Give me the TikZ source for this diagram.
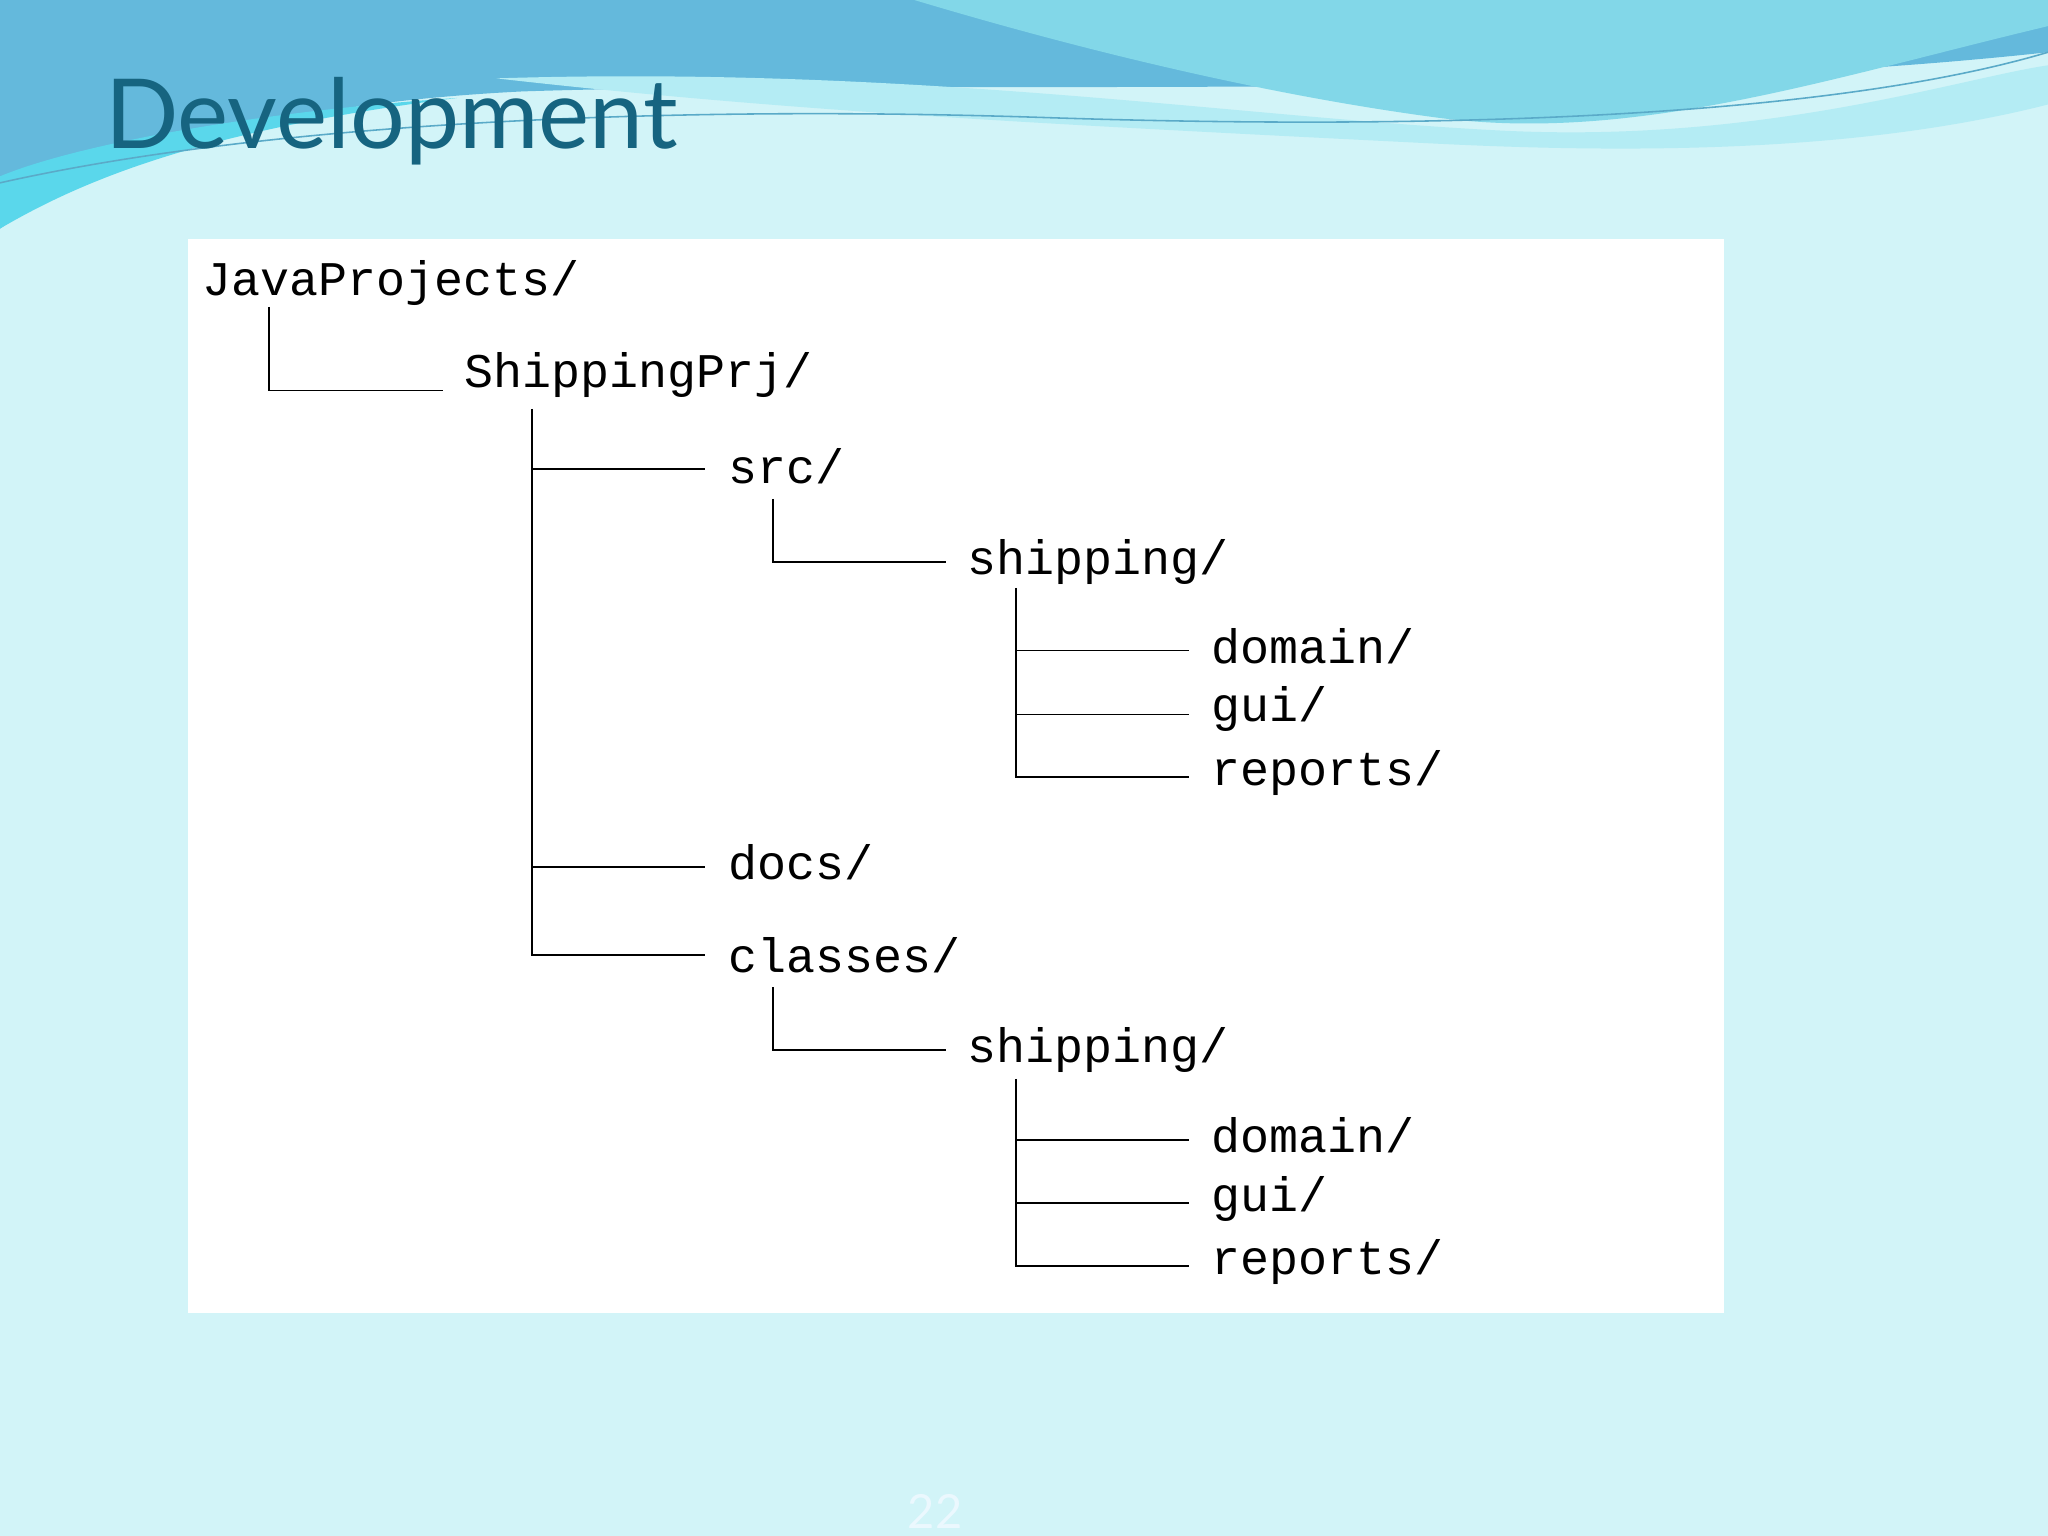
\documentclass[tikz,border=0pt]{standalone}
\usepackage{fontspec}
\setmainfont{Lato}
\newfontfamily\monof{Liberation Mono}
\begin{document}
\begin{tikzpicture}[x=0.5pt,y=-0.5pt,
  item/.style={anchor=west,inner sep=0pt,font=\monof\fontsize{18.5}{20}\selectfont},
  ln/.style={line width=0.7pt,black}]
\useasboundingbox (0,0) rectangle (1568,1176);
\fill[cyan!8!white!85!blue!5] (0,0) rectangle (1568,1176);
\fill[color={rgb,255:red,210;green,244;blue,248}] (0,0) rectangle (1568,1176);
% header waves
\fill[color={rgb,255:red,100;green,185;blue,220}] (0,0) -- (1568,0) -- (1568,40) .. controls (1200,80) and (700,60) .. (400,70) .. controls (200,80) and (80,120) .. (0,175) -- cycle;
\fill[color={rgb,255:red,130;green,215;blue,232}] (700,0) -- (1568,0) -- (1568,20) .. controls (1400,60) and (1250,110) .. (1100,90) .. controls (950,70) and (800,30) .. (700,0) -- cycle;
\fill[color={rgb,255:red,180;green,236;blue,244}] (380,60) .. controls (700,50) and (950,90) .. (1150,100) .. controls (1350,110) and (1500,60) .. (1568,50) -- (1568,80) .. controls (1450,110) and (1300,120) .. (1100,110) .. controls (800,95) and (600,85) .. (380,60) -- cycle;
\fill[color={rgb,255:red,90;green,215;blue,235}] (0,135) .. controls (60,110) and (200,85) .. (350,75) .. controls (150,100) and (60,140) .. (0,175) -- cycle;
\draw[color={rgb,255:red,90;green,170;blue,200},line width=0.6pt] (0,140) .. controls (200,95) and (500,80) .. (800,90) .. controls (1100,100) and (1400,90) .. (1568,40);
\node[anchor=base west,inner sep=0pt,font=\fontsize{37}{40}\selectfont,color={rgb,255:red,22;green,100;blue,128}] (title) at (80,114) {Development};
% white panel
\fill[white] (144,183) rectangle (1320,1005);
% items
\node[item] (jp) at (155,217) {JavaProjects/};
\node[item] (sp) at (355,287) {ShippingPrj/};
\node[item] (src) at (557,357) {src/};
\node[item] (sh1) at (740,430) {shipping/};
\node[item] (d1) at (927,495) {domain/};
\node[item] (g1) at (927,543) {gui/};
\node[item] (r1) at (927,592) {reports/};
\node[item] (docs) at (557,660) {docs/};
\node[item] (cls) at (557,731) {classes/};
\node[item] (sh2) at (740,804) {shipping/};
\node[item] (d2) at (927,869) {domain/};
\node[item] (g2) at (927,918) {gui/};
\node[item] (r2) at (927,966) {reports/};
% connectors
\coordinate (a0) at (206,235);
\draw[ln] (a0) |- ([xshift=-8pt,yshift=-6pt]sp.west);
\coordinate (b0) at (407,313);
\draw[ln] (b0) |- ([xshift=-8.5pt]cls.west);
\draw[ln] (407,359) -- ([xshift=-8.5pt,yshift=-1pt]src.west);
\draw[ln] (407,664) -- ([xshift=-8.5pt,yshift=-2pt]docs.west);
\coordinate (c0) at (592,382);
\draw[ln] (c0) |- ([xshift=-8pt]sh1.west);
\coordinate (e0) at (778,450);
\draw[ln] (e0) |- ([xshift=-8.5pt,yshift=-1.5pt]r1.west);
\draw[ln] (778,498) -- ([xshift=-8.5pt,yshift=-1.5pt]d1.west);
\draw[ln] (778,547) -- ([xshift=-8.5pt,yshift=-2pt]g1.west);
\coordinate (c1) at (592,756);
\draw[ln] (c1) |- ([xshift=-8pt]sh2.west);
\coordinate (e1) at (778,826);
\draw[ln] (e1) |- ([xshift=-8.5pt,yshift=-1.5pt]r2.west);
\draw[ln] (778,873) -- ([xshift=-8.5pt,yshift=-2pt]d2.west);
\draw[ln] (778,921) -- ([xshift=-8.5pt,yshift=-1.5pt]g2.west);
\node[font=\fontsize{18}{20}\selectfont,color=white!92!cyan] (pg) at (716,1157) {22};
\end{tikzpicture}
\end{document}
